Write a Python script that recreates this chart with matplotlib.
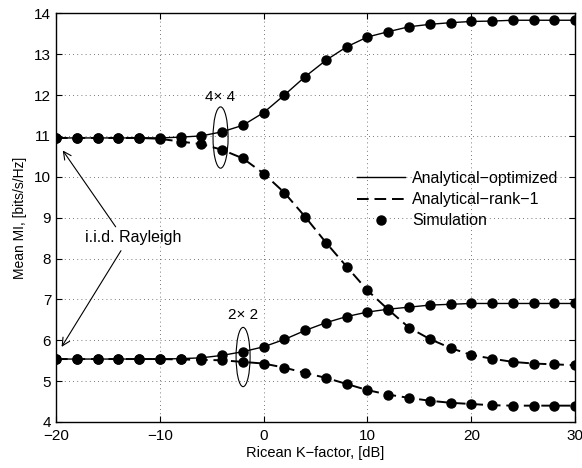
"""
Mean MI versus Ricean K-factor for 4x4 and 2x2 MIMO channels.
"""

import matplotlib
matplotlib.use("Agg")
import matplotlib.pyplot as plt
from matplotlib.patches import Ellipse

plt.rcParams["font.family"] = ["Liberation Sans", "DejaVu Sans"]

k_db = [-20, -18, -16, -14, -12, -10, -8, -6, -4, -2, 0, 2, 4, 6, 8, 10,
        12, 14, 16, 18, 20, 22, 24, 26, 28, 30]

mi_4x4_opt = [10.95, 10.95, 10.95, 10.95, 10.95, 10.95, 10.97, 11.0, 11.1,
              11.26, 11.57, 12.0, 12.45, 12.85, 13.18, 13.42, 13.55, 13.67,
              13.73, 13.77, 13.80, 13.81, 13.83, 13.83, 13.83, 13.83]
mi_4x4_rank1 = [10.95, 10.95, 10.95, 10.95, 10.95, 10.93, 10.86, 10.80,
                10.66, 10.45, 10.08, 9.61, 9.02, 8.39, 7.80, 7.22, 6.75,
                6.31, 6.03, 5.81, 5.64, 5.55, 5.47, 5.43, 5.41, 5.39]
mi_2x2_opt = [5.54, 5.54, 5.54, 5.54, 5.54, 5.54, 5.55, 5.57, 5.63, 5.72,
              5.84, 6.02, 6.24, 6.43, 6.58, 6.69, 6.76, 6.81, 6.86, 6.88,
              6.90, 6.90, 6.90, 6.90, 6.90, 6.90]
mi_2x2_rank1 = [5.54, 5.54, 5.54, 5.54, 5.54, 5.54, 5.53, 5.52, 5.51, 5.47,
                5.43, 5.33, 5.20, 5.08, 4.93, 4.78, 4.67, 4.59, 4.52, 4.47,
                4.44, 4.41, 4.40, 4.40, 4.40, 4.40]

fig = plt.figure(figsize=(5.82, 4.68), dpi=100)
ax = fig.add_axes([0.0962, 0.0983, 0.892, 0.8733])

dash = (0, (6, 3))
ax.plot(k_db, mi_4x4_opt, color="k", lw=1.0, label="Analytical\u2212optimized")
ax.plot(k_db, mi_4x4_rank1, color="k", lw=1.4, linestyle=dash,
        label="Analytical\u2212rank\u22121")
ax.plot(k_db, mi_2x2_opt, color="k", lw=1.0)
ax.plot(k_db, mi_2x2_rank1, color="k", lw=1.4, linestyle=dash)

for series in (mi_4x4_opt, mi_4x4_rank1, mi_2x2_opt, mi_2x2_rank1):
    ax.plot(k_db, series, "o", color="k", ms=6.5, zorder=3)
ax.plot([], [], "o", color="k", ms=6.5, label="Simulation")

# ellipses marking the antenna configurations
ax.add_patch(Ellipse((-4.15, 10.96), 1.45, 1.5, fill=False, color="k", lw=0.8))
ax.text(-4.2, 11.95, "4\u00d7 4", ha="center", va="center", fontsize=11)
ax.add_patch(Ellipse((-1.98, 5.59), 1.35, 1.45, fill=False, color="k", lw=0.8))
ax.text(-2.0, 6.63, "2\u00d7 2", ha="center", va="center", fontsize=11)

ax.text(-12.6, 8.52, "i.i.d. Rayleigh", ha="center", va="center", fontsize=11.5)
arrow = dict(arrowstyle="->", color="k", lw=0.8, mutation_scale=14)
ax.annotate("", xy=(-19.5, 10.7), xytext=(-14.1, 8.72), arrowprops=arrow)
ax.annotate("", xy=(-19.6, 5.78), xytext=(-13.6, 8.25), arrowprops=arrow)

ax.set_xlim(-20, 30)
ax.set_ylim(4, 14)
ax.set_xticks([-20, -10, 0, 10, 20, 30])
ax.set_yticks(range(4, 15))
ax.set_xticklabels(["\u221220", "\u221210", "0", "10", "20", "30"])
ax.tick_params(direction="in", top=True, right=True, labelsize=11, length=4)
ax.tick_params(axis="x", pad=5)
ax.grid(True, color="k", linestyle=(0, (1, 4)), lw=0.6, alpha=0.7)
for s in ax.spines.values():
    s.set_linewidth(1.0)

ax.set_xlabel("Ricean K\u2212factor, [dB]", fontsize=10.5, labelpad=2)
ax.set_ylabel("Mean MI, [bits/s/Hz]", fontsize=10, labelpad=5)

ax.legend(loc="upper right", bbox_to_anchor=(0.995, 0.65), frameon=False,
          fontsize=11.5, handlelength=3.0, labelspacing=0.4, handletextpad=0.4)

fig.savefig("out.png", dpi=100)
